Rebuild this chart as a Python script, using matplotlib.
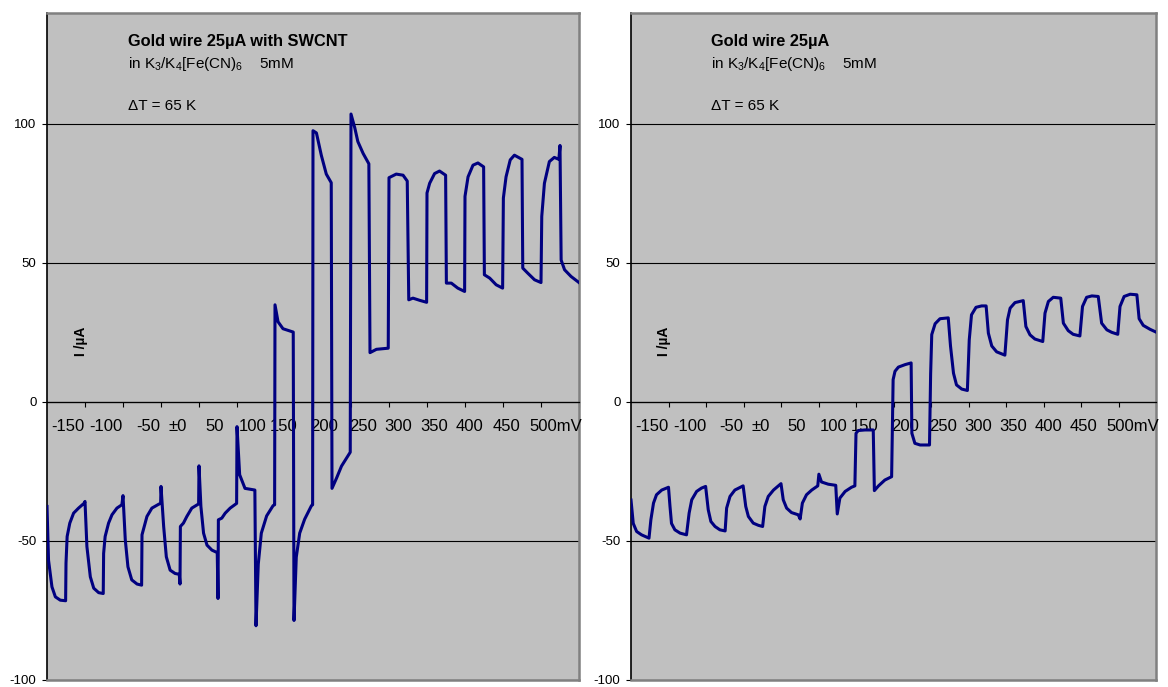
import matplotlib
matplotlib.use("Agg")
import matplotlib.pyplot as plt

plt.rcParams["font.family"] = ["Liberation Sans", "DejaVu Sans"]
plt.rcParams["mathtext.default"] = "regular"
plt.rcParams["axes.unicode_minus"] = False

# Zeitachse in Schritten (je 1 Einheit = ein Potentialschritt)
swcnt_t = [
    0.00, 0.04, 0.13, 0.22, 0.35, 0.49, 0.50, 0.53, 0.60, 0.70, 0.83, 0.98,
    1.00, 1.05, 1.14, 1.23, 1.36, 1.48, 1.49, 1.53, 1.62, 1.71, 1.84, 1.97,
    2.00, 2.06, 2.13, 2.23, 2.37, 2.49, 2.50, 2.56, 2.63, 2.76, 2.94, 2.99,
    3.00, 3.07, 3.14, 3.24, 3.37, 3.48, 3.50, 3.51, 3.59, 3.68, 3.81, 3.99,
    4.00, 4.05, 4.12, 4.21, 4.34, 4.48, 4.50, 4.51, 4.60, 4.69, 4.82, 4.99,
    5.00, 5.07, 5.21, 5.47, 5.50, 5.56, 5.64, 5.78, 5.95, 5.99,
    6.00, 6.08, 6.21, 6.48, 6.50, 6.56, 6.65, 6.78, 6.96, 6.99,
    7.00, 7.09, 7.22, 7.35, 7.48, 7.50, 7.62, 7.75, 7.98,
    8.00, 8.10, 8.18, 8.32, 8.47, 8.50, 8.67, 8.98,
    9.00, 9.19, 9.37, 9.48, 9.52, 9.63, 9.81, 9.99,
    10.00, 10.07, 10.20, 10.33, 10.49, 10.51, 10.64, 10.81, 10.99,
    11.00, 11.08, 11.21, 11.34, 11.49, 11.51, 11.65, 11.82, 11.99,
    12.01, 12.08, 12.19, 12.30, 12.50, 12.52, 12.65, 12.83, 13.00,
    13.02, 13.09, 13.22, 13.35, 13.47, 13.50, 13.53, 13.62, 13.79, 14.00,
]
swcnt_i = [
    -37.6, -56.9, -66.5, -70.1, -71.3, -71.5, -58.0, -48.4, -43.6, -40.0, -38.2, -36.4,
    -35.8, -52.0, -62.9, -67.0, -68.6, -68.9, -54.5, -48.4, -43.6, -40.6, -38.2, -37.0,
    -33.7, -49.6, -59.3, -64.0, -65.5, -65.9, -47.8, -44.8, -41.2, -38.2, -36.8, -36.5,
    -30.4, -44.8, -55.7, -60.5, -61.7, -62.0, -65.5, -44.8, -43.6, -41.2, -38.2, -36.7,
    -23.0, -37.6, -47.2, -51.5, -53.3, -54.2, -70.7, -42.4, -41.8, -40.0, -38.2, -36.5,
    -8.9, -26.2, -31.1, -31.7, -80.5, -58.3, -47.2, -41.0, -37.3, -37.0,
    34.9, 28.8, 26.3, 25.1, -78.6, -55.8, -47.2, -42.2, -37.3, -37.0,
    97.5, 96.7, 88.6, 81.9, 78.8, -31.1, -27.4, -23.1, -18.1,
    103.5, 98.5, 93.6, 89.3, 85.6, 17.7, 18.9, 19.3,
    80.6, 81.9, 81.5, 79.4, 36.7, 37.3, 36.5, 35.8,
    75.1, 78.6, 82.1, 83.0, 81.5, 42.7, 42.7, 40.9, 39.7,
    73.9, 80.9, 85.1, 85.9, 84.5, 45.7, 44.5, 42.1, 40.9,
    73.3, 80.9, 87.0, 88.7, 87.2, 48.1, 46.3, 43.9, 42.9,
    66.7, 78.6, 86.4, 87.9, 87.2, 92.2, 51.0, 47.5, 45.1, 42.9,
]

gold_t = [
    0.00, 0.06, 0.15, 0.28, 0.48, 0.53, 0.60, 0.68, 0.82, 1.00,
    1.04, 1.08, 1.17, 1.31, 1.48, 1.55, 1.62, 1.75, 1.88, 1.99,
    2.06, 2.13, 2.24, 2.37, 2.51, 2.55, 2.64, 2.77, 2.99,
    3.06, 3.13, 3.26, 3.40, 3.51, 3.57, 3.66, 3.80, 4.00,
    4.06, 4.15, 4.28, 4.46, 4.51, 4.57, 4.68, 4.82, 4.98, 5.01,
    5.08, 5.26, 5.46, 5.50, 5.57, 5.71, 5.88, 5.97,
    6.00, 6.06, 6.24, 6.46, 6.49, 6.60, 6.77, 6.95,
    6.99, 7.04, 7.13, 7.31, 7.47, 7.49, 7.57, 7.71, 7.96,
    7.99, 8.02, 8.11, 8.24, 8.46, 8.52, 8.60, 8.68, 8.82, 8.97,
    9.02, 9.08, 9.20, 9.35, 9.47, 9.53, 9.62, 9.75, 9.97,
    10.04, 10.11, 10.24, 10.46, 10.53, 10.64, 10.77, 10.98,
    11.04, 11.13, 11.26, 11.46, 11.53, 11.66, 11.79, 11.97,
    12.04, 12.15, 12.29, 12.46, 12.55, 12.69, 12.82, 12.98,
    13.04, 13.15, 13.31, 13.49, 13.55, 13.66, 13.84, 14.00,
]
gold_i = [
    -35.3, -43.7, -46.6, -47.8, -49.0, -42.4, -36.4, -33.4, -31.7, -30.7,
    -37.6, -43.7, -46.0, -47.2, -47.8, -40.0, -35.2, -32.2, -31.0, -30.4,
    -38.8, -43.0, -44.8, -46.0, -46.4, -38.2, -34.0, -31.7, -30.2,
    -37.6, -41.2, -43.6, -44.4, -44.8, -37.6, -34.0, -31.7, -29.4,
    -35.2, -38.2, -39.8, -40.6, -42.1, -36.4, -33.4, -31.7, -30.2, -26.0,
    -28.8, -29.6, -30.0, -40.3, -34.6, -32.2, -30.7, -30.2,
    -11.3, -10.3, -10.1, -10.1, -31.9, -30.2, -28.1, -26.9,
    8.0, 11.0, 12.5, 13.4, 14.0, -11.3, -14.9, -15.5, -15.5,
    10.0, 24.2, 28.1, 29.9, 30.2, 20.1, 10.3, 6.1, 4.6, 4.1,
    22.3, 31.3, 34.0, 34.5, 34.5, 24.7, 20.1, 18.0, 16.8,
    29.5, 33.7, 35.7, 36.4, 27.1, 24.1, 22.6, 21.7,
    31.9, 36.1, 37.6, 37.3, 28.3, 25.6, 24.3, 23.7,
    34.3, 37.6, 38.1, 37.9, 28.3, 25.9, 25.0, 24.3,
    34.3, 37.9, 38.7, 38.5, 29.9, 27.5, 26.1, 25.1,
]

potential_labels = ["-150", "-100", "-50", "\u00b10", "50", "100", "150",
                    "200", "250", "300", "350", "400", "450", "500mV"]
# Lage der Beschriftungen (wie im Original frei gesetzt)
label_x = [0.56, 1.56, 2.66, 3.45, 4.42, 5.41, 6.22, 7.3, 8.32, 9.25,
           10.18, 11.13, 12.08, 13.38]

titles = ["Gold wire 25\u00b5A with SWCNT", "Gold wire 25\u00b5A"]


def setup_axes(ax):
    ax.set_facecolor("#C0C0C0")
    ax.set_xlim(0, 14)
    ax.set_ylim(-100, 140)
    ax.set_yticks([-100, -50, 0, 50, 100])
    ax.set_xticks(range(1, 15))
    ax.set_xticklabels([])
    ax.yaxis.grid(True, color="black", linewidth=0.8)
    ax.set_axisbelow(True)
    ax.spines["bottom"].set_position(("data", 0))
    ax.spines["bottom"].set_color("black")
    ax.spines["bottom"].set_linewidth(0.9)
    ax.spines["left"].set_color("black")
    ax.spines["left"].set_linewidth(1.2)
    for s in ["top", "right"]:
        ax.spines[s].set_color("#808080")
        ax.spines[s].set_linewidth(1.8)
    ax.plot([0, 1], [0, 0], transform=ax.transAxes, color="#808080",
            lw=1.8, clip_on=False, zorder=5)
    ax.tick_params(axis="x", direction="out", length=3.5, width=0.8,
                   color="black")
    ax.tick_params(axis="y", direction="out", length=3.5, width=0.8,
                   labelsize=9.5, pad=4)
    for xp, lab in zip(label_x, potential_labels):
        ax.text(xp, -8.9, lab, ha="center", va="center", fontsize=12,
                clip_on=False)
    ax.text(0.063, 0.508, "I /\u00b5A", transform=ax.transAxes,
            rotation=90, ha="center", va="center", fontsize=10,
            fontweight="bold")


def annotate(ax, title):
    ax.text(0.153, 0.956, title, transform=ax.transAxes, ha="left",
            va="center", fontsize=11.8, fontweight="bold")
    ax.text(0.153, 0.923, "in K$_3$/K$_4$[Fe(CN)$_6$    5mM",
            transform=ax.transAxes, ha="left", va="center", fontsize=11)
    ax.text(0.153, 0.86, "\u0394T = 65 K", transform=ax.transAxes,
            ha="left", va="center", fontsize=11)


fig = plt.figure(figsize=(11.68, 6.87), dpi=100)
ax1 = fig.add_axes([47 / 1168, 7 / 687, 532 / 1168, 667.5 / 687])
ax2 = fig.add_axes([631 / 1168, 7 / 687, 525 / 1168, 667.5 / 687])

for ax, t, i, title in [(ax1, swcnt_t, swcnt_i, titles[0]),
                        (ax2, gold_t, gold_i, titles[1])]:
    setup_axes(ax)
    ax.plot(t, i, color="#000080", linewidth=2.2, zorder=3,
            solid_joinstyle="round")
    annotate(ax, title)

fig.savefig("out.png", dpi=100, facecolor="white")
